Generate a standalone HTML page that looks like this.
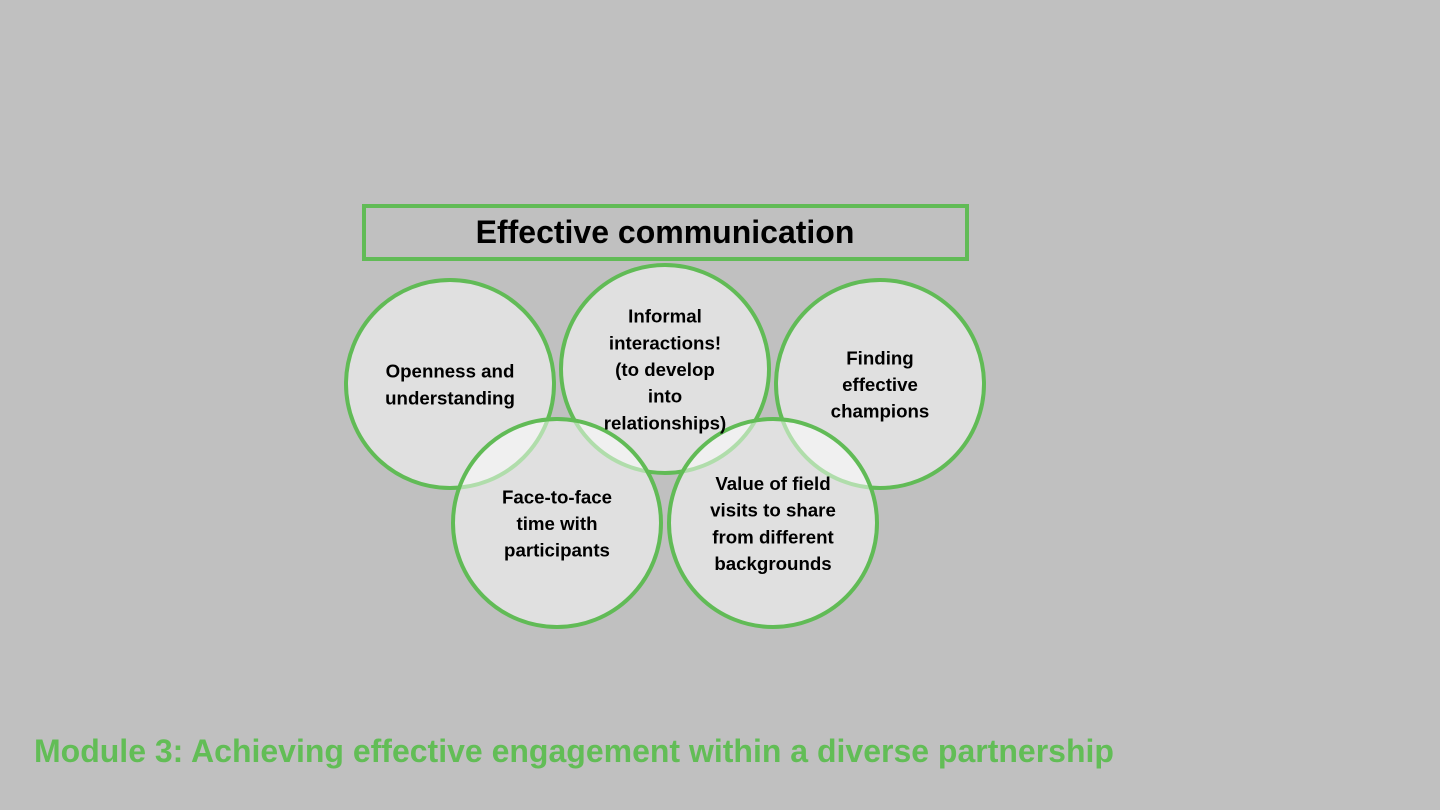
<!DOCTYPE html>
<html><head><meta charset="utf-8"><style>
html,body{margin:0;padding:0;width:1440px;height:810px;background:#c0c0c0;overflow:hidden}
svg{display:block}
text{font-family:"Liberation Sans",Arial,sans-serif;font-weight:bold}
</style></head><body>
<svg width="1440" height="810">
<rect x="364" y="206" width="603" height="53" fill="none" stroke="#61bb56" stroke-width="4"/>
<text x="665" y="243" font-size="32" text-anchor="middle" fill="#000">Effective communication</text>
<g id="circles"></g>
<text x="34" y="762" font-size="32" fill="#62bd56">Module 3: Achieving effective engagement within a diverse partnership</text>
</svg>
<script>
const labels=[["Openness and","understanding"],["Informal","interactions!","(to develop","into","relationships)"],["Finding","effective","champions"],["Face-to-face","time with","participants"],["Value of field","visits to share","from different","backgrounds"]];
const cx=[450,665,880,557,773];
const cy=[384,369,384,523,523];
const names=['circle-openness','circle-informal','circle-champions','circle-face-to-face','circle-field-visits'];
const g=document.getElementById('circles');
const ns='http://www.w3.org/2000/svg';
for(let i=0;i<labels.length;i++){
  const c=document.createElementNS(ns,'circle');
  
  
  c.setAttribute('cx',cx[i]);c.setAttribute('cy',cy[i]);c.setAttribute('r',104);
  c.setAttribute('fill','rgba(255,255,255,0.5)');
  c.setAttribute('stroke','#61bb56');c.setAttribute('stroke-width','4');
  g.appendChild(c);
}
for(let i=0;i<labels.length;i++){
  const L=labels[i],lh=26.7;
  const y0=cy[i]-(L.length-1)*lh/2+7;
  const t=document.createElementNS(ns,'text');
  
  
  t.setAttribute('text-anchor','middle');t.setAttribute('font-size','18.7');t.setAttribute('fill','#000');
  L.forEach((s,j)=>{const sp=document.createElementNS(ns,'tspan');sp.setAttribute('x',cx[i]);sp.setAttribute('y',y0+j*lh);sp.textContent=s;t.appendChild(sp);});
  g.appendChild(t);
}
</script>
</body></html>
